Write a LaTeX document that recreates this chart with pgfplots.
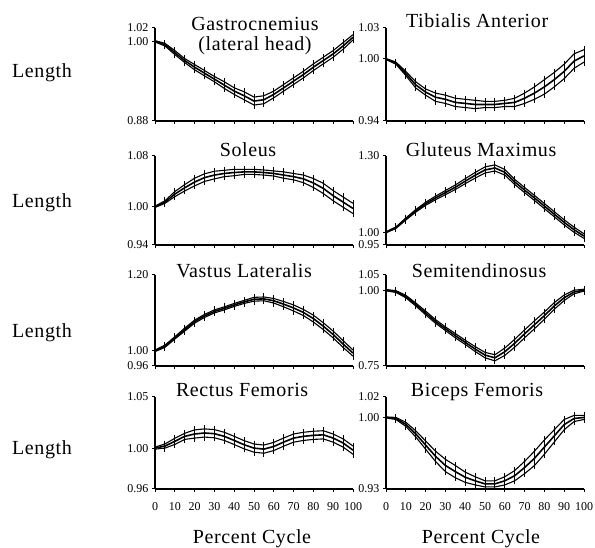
\documentclass[border=0pt]{standalone}
\usepackage{pgfplots}
\pgfplotsset{compat=1.18}
\usepackage{pgfplotstable}
\usepackage{fontspec}
\setmainfont{Liberation Serif}
\newfontfamily\spaced[LetterSpace=3]{Liberation Serif}

% x  = percent cycle, y = mean normalised length, e = half band width
\pgfplotstableread{
x y e
0 1.000 0.001
5 0.995 0.002
10 0.983 0.003
15 0.971 0.003
20 0.961 0.004
25 0.952 0.004
30 0.943 0.004
35 0.934 0.005
40 0.925 0.005
45 0.918 0.006
50 0.910 0.006
55 0.912 0.006
60 0.920 0.005
65 0.930 0.005
70 0.940 0.005
75 0.950 0.005
80 0.961 0.005
85 0.971 0.005
90 0.981 0.005
95 0.993 0.005
100 1.006 0.004
}\gastro
\pgfplotstableread{
x y e
0 1.000 0.0005
5 0.996 0.001
10 0.986 0.002
15 0.975 0.003
20 0.968 0.003
25 0.963 0.004
30 0.961 0.004
35 0.958 0.004
40 0.957 0.004
45 0.956 0.004
50 0.956 0.003
55 0.956 0.003
60 0.957 0.003
65 0.958 0.004
70 0.962 0.005
75 0.967 0.006
80 0.973 0.007
85 0.980 0.007
90 0.988 0.007
95 0.998 0.007
100 1.003 0.006
}\tibialis
\pgfplotstableread{
x y e
0 1.000 0.001
5 1.0075 0.002
10 1.020 0.004
15 1.030 0.005
20 1.039 0.006
25 1.046 0.006
30 1.050 0.006
35 1.0525 0.005
40 1.054 0.005
45 1.055 0.004
50 1.055 0.004
55 1.054 0.004
60 1.0525 0.004
65 1.050 0.005
70 1.0475 0.005
75 1.044 0.006
80 1.0375 0.007
85 1.029 0.008
90 1.0175 0.008
95 1.0075 0.008
100 0.9975 0.008
}\soleus
\pgfplotstableread{
x y e
0 1.000 0.002
5 1.018 0.003
10 1.052 0.004
15 1.084 0.005
20 1.112 0.006
25 1.135 0.007
30 1.156 0.008
35 1.177 0.009
40 1.201 0.010
45 1.224 0.011
50 1.245 0.012
55 1.253 0.012
60 1.236 0.011
65 1.198 0.010
70 1.166 0.010
75 1.135 0.010
80 1.103 0.010
85 1.071 0.010
90 1.039 0.010
95 1.010 0.010
100 0.985 0.009
}\gluteus
\pgfplotstableread{
x y e
0 1.000 0.002
5 1.012 0.003
10 1.034 0.003
15 1.056 0.004
20 1.077 0.004
25 1.092 0.004
30 1.104 0.004
35 1.112 0.004
40 1.121 0.004
45 1.129 0.004
50 1.136 0.005
55 1.137 0.005
60 1.132 0.006
65 1.123 0.007
70 1.113 0.008
75 1.101 0.008
80 1.085 0.009
85 1.065 0.009
90 1.043 0.009
95 1.018 0.009
100 0.994 0.008
}\vastus
\pgfplotstableread{
x y e
0 1.000 0.002
5 0.9955 0.003
10 0.979 0.004
15 0.953 0.005
20 0.925 0.006
25 0.897 0.006
30 0.873 0.006
35 0.850 0.007
40 0.828 0.007
45 0.806 0.008
50 0.786 0.009
55 0.777 0.010
60 0.797 0.012
65 0.825 0.013
70 0.856 0.013
75 0.886 0.013
80 0.916 0.012
85 0.948 0.011
90 0.975 0.009
95 0.994 0.006
100 1.000 0.003
}\semiten
\pgfplotstableread{
x y e
0 1.000 0.001
5 1.002 0.002
10 1.0066 0.003
15 1.0115 0.003
20 1.0138 0.004
25 1.0148 0.004
30 1.0141 0.004
35 1.0115 0.004
40 1.0075 0.004
45 1.0033 0.004
50 1.000 0.004
55 0.999 0.004
60 1.0016 0.004
65 1.0059 0.004
70 1.0098 0.004
75 1.0115 0.004
80 1.0125 0.004
85 1.013 0.004
90 1.0098 0.004
95 1.005 0.004
100 0.998 0.004
}\rectus
\pgfplotstableread{
x y e
0 1.000 0.0005
5 0.999 0.001
10 0.9933 0.002
15 0.984 0.003
20 0.973 0.004
25 0.962 0.005
30 0.953 0.006
35 0.947 0.006
40 0.9415 0.005
45 0.938 0.004
50 0.935 0.003
55 0.935 0.003
60 0.938 0.004
65 0.943 0.005
70 0.951 0.006
75 0.960 0.007
80 0.971 0.007
85 0.982 0.006
90 0.993 0.005
95 0.999 0.003
100 1.000 0.002
}\biceps

\pgfplotsset{
  panel/.style={
    scale only axis, anchor=south west, width=198pt,
    xmin=0, xmax=100, enlargelimits=false,
    axis x line*=bottom, axis y line*=left,
    axis line style={line width=1.3pt},
    xtick={0,10,...,100}, xticklabels={},
    tick align=outside, major tick length=3pt,
    tick style={line width=1pt, black},
    ticklabel style={font=\fontsize{12}{13}\selectfont},
    yticklabel style={/pgf/number format/.cd, fixed, fixed zerofill, precision=2},
    /pgf/number format/assume math mode=true,
    clip=false,
  },
  bottomrow/.style={xticklabels={0,10,20,30,40,50,60,70,80,90,100},
    xticklabel style={yshift=-7pt}},
  band/.style={black, line width=1.6pt,
    error bars/.cd, y dir=both, y explicit,
    error bar style={line width=0.9pt},
    error mark options={mark size=3.5pt, line width=0.9pt}},
  env/.style={black, line width=1.1pt},
}
\newcommand{\ttl}{\spaced\fontsize{20}{22}\selectfont}

\begin{document}
\begin{tikzpicture}
\path[use as bounding box] (0pt,0pt) rectangle (595pt,548pt);

% row 1
\begin{axis}[panel, at={(155pt,427pt)}, height=93pt, ymin=0.88, ymax=1.02, ytick={0.88,1.00,1.02}]
\addplot[band] table[x=x, y=y, y error=e] {\gastro};
\addplot[env] table[x=x, y expr=\thisrow{y}+\thisrow{e}] {\gastro};
\addplot[env] table[x=x, y expr=\thisrow{y}-\thisrow{e}] {\gastro};
\node[anchor=base, font=\ttl] at (rel axis cs:0.505,0.97) {Gastrocnemius};
\node[anchor=base, font=\ttl] at (rel axis cs:0.505,0.76) {(lateral head)};
\end{axis}
\begin{axis}[panel, at={(386pt,427pt)}, height=93pt, ymin=0.94, ymax=1.03, ytick={0.94,1.00,1.03}]
\addplot[band] table[x=x, y=y, y error=e] {\tibialis};
\addplot[env] table[x=x, y expr=\thisrow{y}+\thisrow{e}] {\tibialis};
\addplot[env] table[x=x, y expr=\thisrow{y}-\thisrow{e}] {\tibialis};
\node[anchor=base, font=\ttl] at (rel axis cs:0.46,1.01) {Tibialis Anterior};
\end{axis}

% row 2
\begin{axis}[panel, at={(155pt,303pt)}, height=89pt, ymin=0.94, ymax=1.08, ytick={0.94,1.00,1.08}]
\addplot[band] table[x=x, y=y, y error=e] {\soleus};
\addplot[env] table[x=x, y expr=\thisrow{y}+\thisrow{e}] {\soleus};
\addplot[env] table[x=x, y expr=\thisrow{y}-\thisrow{e}] {\soleus};
\node[anchor=base, font=\ttl] at (rel axis cs:0.47,0.99) {Soleus};
\end{axis}
\begin{axis}[panel, at={(386pt,303pt)}, height=89pt, ymin=0.95, ymax=1.30, ytick={0.95,1.00,1.30}]
\addplot[band] table[x=x, y=y, y error=e] {\gluteus};
\addplot[env] table[x=x, y expr=\thisrow{y}+\thisrow{e}] {\gluteus};
\addplot[env] table[x=x, y expr=\thisrow{y}-\thisrow{e}] {\gluteus};
\node[anchor=base, font=\ttl] at (rel axis cs:0.48,0.99) {Gluteus Maximus};
\end{axis}

% row 3
\begin{axis}[panel, at={(155pt,182pt)}, height=91pt, ymin=0.96, ymax=1.20, ytick={0.96,1.00,1.20}]
\addplot[band] table[x=x, y=y, y error=e] {\vastus};
\addplot[env] table[x=x, y expr=\thisrow{y}+\thisrow{e}] {\vastus};
\addplot[env] table[x=x, y expr=\thisrow{y}-\thisrow{e}] {\vastus};
\node[anchor=base, font=\ttl] at (rel axis cs:0.45,0.97) {Vastus Lateralis};
\end{axis}
\begin{axis}[panel, at={(386pt,182pt)}, height=91pt, ymin=0.75, ymax=1.05, ytick={0.75,1.00,1.05}]
\addplot[band] table[x=x, y=y, y error=e] {\semiten};
\addplot[env] table[x=x, y expr=\thisrow{y}+\thisrow{e}] {\semiten};
\addplot[env] table[x=x, y expr=\thisrow{y}-\thisrow{e}] {\semiten};
\node[anchor=base, font=\ttl] at (rel axis cs:0.47,0.97) {Semitendinosus};
\end{axis}

% row 4
\begin{axis}[panel, bottomrow, at={(155pt,59pt)}, height=92pt, ymin=0.96, ymax=1.05, ytick={0.96,1.00,1.05}]
\addplot[band] table[x=x, y=y, y error=e] {\rectus};
\addplot[env] table[x=x, y expr=\thisrow{y}+\thisrow{e}] {\rectus};
\addplot[env] table[x=x, y expr=\thisrow{y}-\thisrow{e}] {\rectus};
\node[anchor=base, font=\ttl] at (rel axis cs:0.44,1.0) {Rectus Femoris};
\end{axis}
\begin{axis}[panel, bottomrow, at={(386pt,59pt)}, height=92pt, ymin=0.93, ymax=1.02, ytick={0.93,1.00,1.02}]
\addplot[band] table[x=x, y=y, y error=e] {\biceps};
\addplot[env] table[x=x, y expr=\thisrow{y}+\thisrow{e}] {\biceps};
\addplot[env] table[x=x, y expr=\thisrow{y}-\thisrow{e}] {\biceps};
\node[anchor=base, font=\ttl] at (rel axis cs:0.46,1.0) {Biceps Femoris};
\end{axis}

% shared labels
\foreach \yy in {475,345,215,98}
  \node[font=\ttl] at (42pt,\yy pt) {Length};
\node[font=\ttl] at (252pt,9pt) {Percent Cycle};
\node[font=\ttl] at (481pt,9pt) {Percent Cycle};
\end{tikzpicture}
\end{document}
